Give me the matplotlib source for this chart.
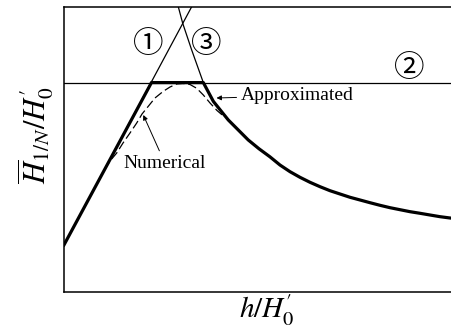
import numpy as np
import matplotlib
matplotlib.use("Agg")
import matplotlib.pyplot as plt

# values (arbitrary units, axes span 0..1)
# line 1 : straight line through the origin side
line1_x = [0.0, 0.330]
line1_y = [0.165, 1.0]
# line 2 : horizontal limit
level2 = 0.734
# crossing of line 1 and line 2
cross12_x = 0.226
# curve 3 : decaying curve
curve3_x = [0.2953, 0.3067, 0.330, 0.360, 0.386, 0.4245, 0.476, 0.5039, 0.532,
            0.5581, 0.5840, 0.6098, 0.6357, 0.6615, 0.6873, 0.7132, 0.7390,
            0.7649, 0.7907, 0.8165, 0.8424, 0.8682, 0.8941, 0.9199, 0.9457,
            0.9716, 0.9974, 1.0]
curve3_y = [1.0, 0.942, 0.848, 0.734, 0.668, 0.603, 0.533, 0.502, 0.474,
            0.4451, 0.4217, 0.4020, 0.3845, 0.3691, 0.3551, 0.3435, 0.3320,
            0.3225, 0.3130, 0.3039, 0.2955, 0.2885, 0.2815, 0.2759, 0.2699,
            0.2640, 0.2594, 0.2590]
# numerical (dashed) curve
num_x = [0.105, 0.1189, 0.1362, 0.1525, 0.1705, 0.1879, 0.2016, 0.2178, 0.2351,
         0.2566, 0.2739, 0.2912, 0.3075, 0.3256, 0.3429, 0.3600, 0.3773,
         0.3953, 0.4134]
num_y = [0.430, 0.4592, 0.4872, 0.5223, 0.5573, 0.5924, 0.6239, 0.6509, 0.6800,
         0.7035, 0.7185, 0.7291, 0.7308, 0.7273, 0.7140, 0.6905, 0.6625,
         0.6362, 0.6151]

plt.rcParams["mathtext.fontset"] = "stix"

W, H = 451, 327
fig = plt.figure(figsize=(W / 100, H / 100), dpi=100)
ax = fig.add_axes([64 / W, (H - 292) / H, 387 / W, 285.3 / H])
ax.set_xlim(0, 1)
ax.set_ylim(0, 1)
ax.set_xticks([])
ax.set_yticks([])
ax.spines["right"].set_visible(False)
for s in ["left", "top", "bottom"]:
    ax.spines[s].set_linewidth(1.1)

# thin full lines 1, 2, 3
ax.plot(line1_x, line1_y, color="black", lw=0.9)
ax.axhline(level2, color="black", lw=0.9)
ax.plot(curve3_x, curve3_y, color="black", lw=0.9)

# thick approximated envelope: line 1 -> line 2 -> curve 3
i3 = curve3_x.index(0.360)
thick_x = [line1_x[0], cross12_x] + curve3_x[i3:]
thick_y = [line1_y[0], level2] + curve3_y[i3:]
ax.plot(thick_x, thick_y, color="black", lw=2.3, solid_joinstyle="round")

# numerical curve
ax.plot(num_x, num_y, color="black", lw=0.9, dashes=(7, 3))

# labels with arrows
serif = "Liberation Serif"
ax.annotate("Numerical", xy=(0.2049, 0.6204), xytext=(0.261, 0.451),
            ha="center", va="center", fontsize=14, family=serif,
            arrowprops=dict(arrowstyle="-|>", color="black", lw=0.7,
                            mutation_scale=7, shrinkA=1, shrinkB=0))
ax.annotate("Approximated", xy=(0.394, 0.680), xytext=(0.4566, 0.688),
            ha="left", va="center", fontsize=14, family=serif,
            arrowprops=dict(arrowstyle="-|>", color="black", lw=0.7,
                            mutation_scale=7, shrinkA=1, shrinkB=0))

circ = ["Noto Sans CJK JP", "DejaVu Sans"]
ax.text(0.2188, 0.866, "\u2460", ha="center", va="center", fontsize=22, family=circ)
ax.text(0.3687, 0.866, "\u2462", ha="center", va="center", fontsize=22, family=circ)
ax.text(0.8923, 0.784, "\u2461", ha="center", va="center", fontsize=22, family=circ)

# axis titles
fig.text(266.7 / W, 1 - 318.5 / H, r"$h/H_0'$", ha="center", va="baseline", fontsize=21)
fig.text(36 / W, 1 - 135 / H, r"$\overline{H}_{1/N}/H_0'$", ha="center",
         va="center", rotation=90, fontsize=22)

fig.savefig("out.png", dpi=100)
